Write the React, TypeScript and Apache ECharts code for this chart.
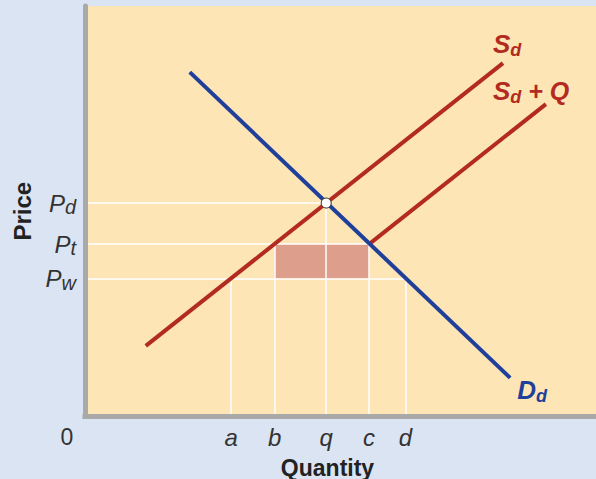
import React, { useEffect, useRef } from 'react';
import * as echarts from 'echarts';

const FONT = "'Liberation Sans', Arial, Helvetica, sans-serif";
const RED = '#b32a20';
const BLUE = '#1f3f9a';
const TEXT = '#333333';

// Tick marks (quantity axis and price axis)
const xTickValues = [0, 28.6, 37.1, 47.2, 55.6, 62.7];
const xTickLabels = ['0', 'a', 'b', 'q', 'c', 'd'];
const yTickValues = [33.6, 42, 52];
const yTickMain = ['P', 'P', 'P'];
const yTickSub = ['w', 't', 'd'];

// Curves [quantity, price]
const supplyLine = [[11.9, 17.2], [81.8, 86.1]];
const supplyQuotaLine = [[55.6, 42], [90.2, 76.1]];
const demandLine = [[20.5, 83.9], [83.2, 9.4]];
const equilibrium = [[47.2, 52]];
// quota rent rectangle [qLeft, pBottom, qRight, pTop]
const quotaRect = [[37.1, 33.6, 55.6, 42]];
// guide line end points [quantity, price]
const hGuides = [[47.2, 52], [55.6, 42], [62.7, 33.6]];
const vGuides = [[28.6, 33.6], [37.1, 42], [47.2, 52], [55.6, 42], [62.7, 33.6]];

const findIndex = (arr: number[], v: number) => arr.findIndex((a) => Math.abs(a - v) < 1e-6);

const labelRich = (color: string) => ({
  s: { fontSize: 26, fontWeight: 'bold', fontStyle: 'italic', color, fontFamily: FONT, lineHeight: 30 },
  d: { fontSize: 18, fontWeight: 'bold', fontStyle: 'italic', color, fontFamily: FONT, lineHeight: 12, verticalAlign: 'bottom' },
  q: { fontSize: 25, fontWeight: 'bold', fontStyle: 'italic', color, fontFamily: FONT, lineHeight: 30 },
});

export default function App() {
  const ref = useRef<HTMLDivElement>(null);
  useEffect(() => {
    if (!ref.current) return;
    const chart = echarts.init(ref.current, undefined, { renderer: 'svg' });
    const guideData = [
      ...hGuides.map(([x, y]) => ({ coords: [[0, y], [x, y]] })),
      ...vGuides.map(([x, y]) => ({ coords: [[x, 0], [x, y]] })),
    ];
    chart.setOption({
      animation: false,
      backgroundColor: '#dbe4f2',
      grid: {
        left: 85,
        right: 0,
        top: 6,
        bottom: 62.5,
        containLabel: false,
        outerBoundsMode: 'none',
        show: true,
        backgroundColor: '#fde5b6',
        borderWidth: 0,
      },
      xAxis: {
        type: 'value',
        min: 0,
        max: 100,
        z: 10,
        axisLine: { show: true, lineStyle: { color: '#a9a9a9', width: 5, cap: 'square' } },
        axisTick: { show: false },
        splitLine: { show: false },
        axisLabel: {
          customValues: xTickValues,
          margin: 9,
          formatter: (v: number) => {
            const i = findIndex(xTickValues, v);
            if (i < 0) return '';
            return i === 0 ? '{z|0}' : '{i|' + xTickLabels[i] + '}';
          },
          rich: {
            z: { fontSize: 23, color: TEXT, fontFamily: FONT, padding: [0, 36, 0, 0] },
            i: { fontSize: 24, fontStyle: 'italic', color: TEXT, fontFamily: FONT },
          },
        },
        name: 'Quantity',
        nameLocation: 'middle',
        nameGap: 41,
        nameTextStyle: {
          fontSize: 23,
          fontWeight: 'bold',
          color: '#222',
          fontFamily: FONT,
          lineHeight: 20,
          padding: [0, 26, 0, 0],
        },
      },
      yAxis: {
        type: 'value',
        min: 0,
        max: 100,
        z: 10,
        axisLine: { show: true, lineStyle: { color: '#a9a9a9', width: 5 } },
        axisTick: { show: false },
        splitLine: { show: false },
        axisLabel: {
          customValues: yTickValues,
          margin: 9,
          formatter: (v: number) => {
            const i = findIndex(yTickValues, v);
            if (i < 0) return '';
            return '{p|' + yTickMain[i] + '}{s|' + yTickSub[i] + '}';
          },
          rich: {
            p: { fontSize: 24, fontStyle: 'italic', color: TEXT, fontFamily: FONT, lineHeight: 28 },
            s: { fontSize: 20, fontStyle: 'italic', color: TEXT, fontFamily: FONT, lineHeight: 14, verticalAlign: 'bottom' },
          },
        },
        name: 'Price',
        nameLocation: 'middle',
        nameGap: 51,
        nameTextStyle: { fontSize: 24, fontWeight: 'bold', color: '#222', fontFamily: FONT },
      },
      series: [
        {
          type: 'custom',
          z: 1,
          silent: true,
          data: quotaRect,
          renderItem: (_params: any, api: any) => {
            const p1 = api.coord([api.value(0), api.value(1)]);
            const p2 = api.coord([api.value(2), api.value(3)]);
            return {
              type: 'rect',
              shape: { x: p1[0], y: p2[1], width: p2[0] - p1[0], height: p1[1] - p2[1] },
              style: { fill: '#dd9f8b' },
            };
          },
        },
        {
          type: 'lines',
          coordinateSystem: 'cartesian2d',
          z: 2,
          silent: true,
          lineStyle: { color: '#ffffff', width: 1.5, opacity: 1 },
          data: guideData,
        },
        {
          type: 'line',
          name: 'Sd',
          z: 3,
          data: supplyLine,
          showSymbol: false,
          silent: true,
          lineStyle: { color: RED, width: 4 },
          endLabel: {
            show: true,
            formatter: () => '{s|S}{d|d}',
            offset: [-18, -19],
            rich: labelRich(RED),
          },
        },
        {
          type: 'line',
          name: 'Sd+Q',
          z: 3,
          data: supplyQuotaLine,
          showSymbol: false,
          silent: true,
          lineStyle: { color: RED, width: 4 },
          endLabel: {
            show: true,
            formatter: () => '{s|S}{d|d}{q| + Q}',
            offset: [-61, -13],
            rich: labelRich(RED),
          },
        },
        {
          type: 'line',
          name: 'Dd',
          z: 3,
          data: demandLine,
          showSymbol: false,
          silent: true,
          lineStyle: { color: BLUE, width: 4 },
          endLabel: {
            show: true,
            formatter: () => '{s|D}{d|d}',
            offset: [-1, 12],
            rich: labelRich(BLUE),
          },
        },
        {
          type: 'scatter',
          z: 5,
          silent: true,
          data: equilibrium,
          symbolSize: 10,
          itemStyle: { color: '#ffffff', borderColor: '#333333', borderWidth: 1, opacity: 1 },
        },
      ],
    });
    return () => chart.dispose();
  }, []);
  return <div ref={ref} style={{ position: 'fixed', left: 0, top: 0, width: 596, height: 479 }} />;
}
